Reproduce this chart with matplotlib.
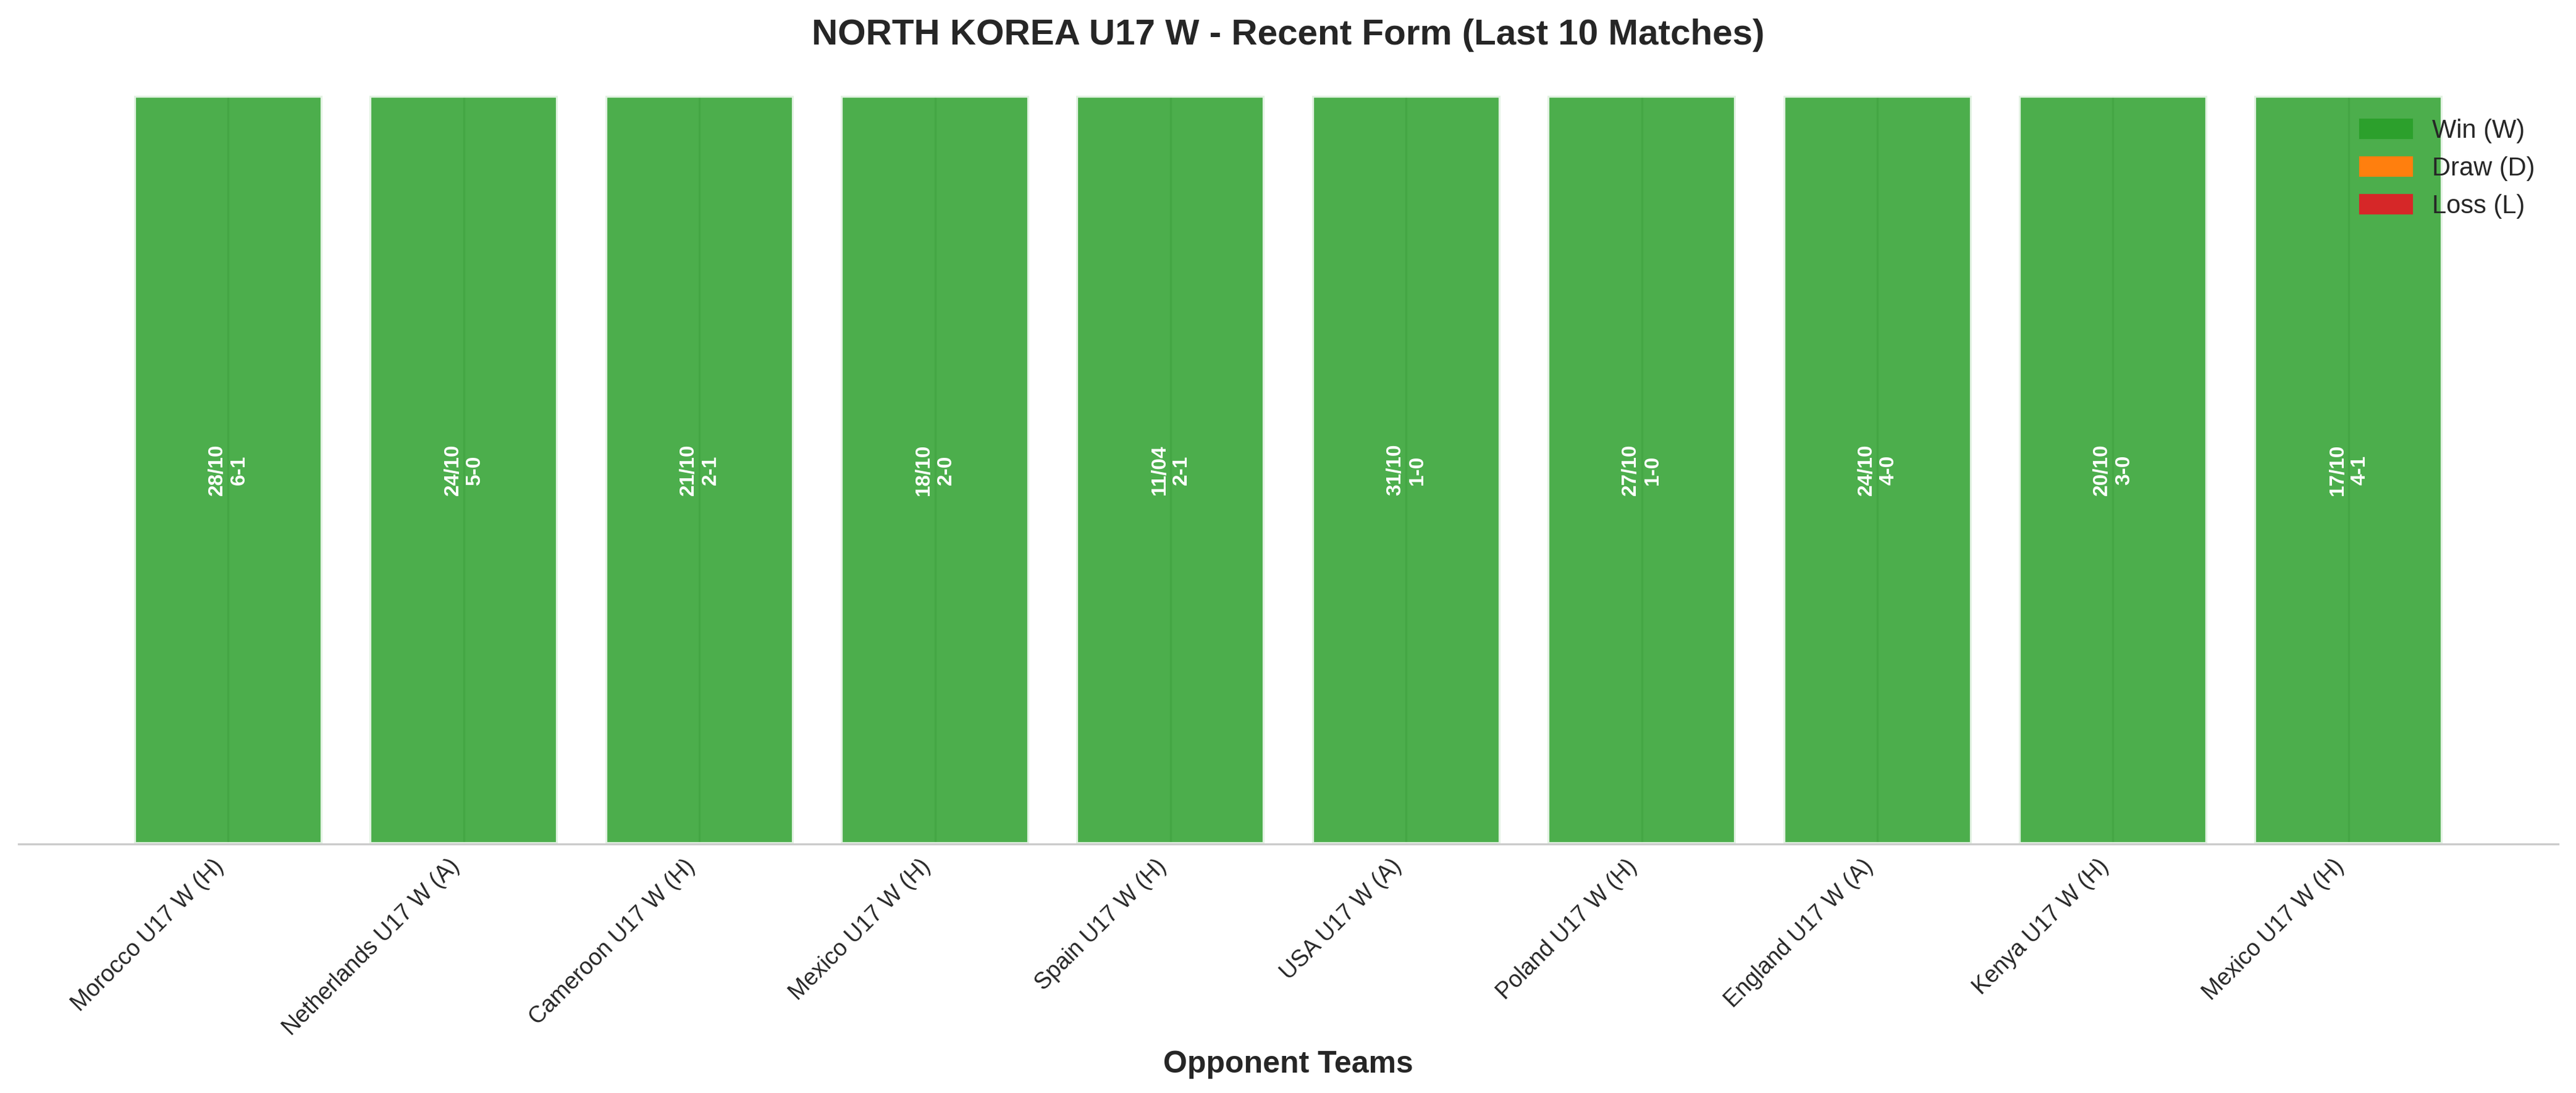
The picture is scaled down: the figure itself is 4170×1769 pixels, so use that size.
import matplotlib
matplotlib.use("Agg")
import matplotlib.pyplot as plt
import matplotlib.patches as mpatches
import seaborn as sns

opponents = ["Morocco U17 W (H)", "Netherlands U17 W (A)", "Cameroon U17 W (H)",
             "Mexico U17 W (H)", "Spain U17 W (H)", "USA U17 W (A)",
             "Poland U17 W (H)", "England U17 W (A)", "Kenya U17 W (H)",
             "Mexico U17 W (H)"]
dates = ["28/10", "24/10", "21/10", "18/10", "11/04", "31/10", "27/10", "24/10", "20/10", "17/10"]
scores = ["6-1", "5-0", "2-1", "2-0", "2-1", "1-0", "1-0", "4-0", "3-0", "4-1"]
results = ["W", "W", "W", "W", "W", "W", "W", "W", "W", "W"]
bar_heights = [1, 1, 1, 1, 1, 1, 1, 1, 1, 1]

result_colors = {"W": "#2ca02c", "D": "#ff7f0e", "L": "#d62728"}
legend_labels = {"W": "Win (W)", "D": "Draw (D)", "L": "Loss (L)"}

sns.set_style("whitegrid")
plt.rcParams["font.family"] = ["Liberation Sans", "DejaVu Sans"]

fig = plt.figure(figsize=(13.9, 5.8967), dpi=300)
ax = fig.add_axes([0.0072, 0.2278, 0.9859, 0.6846])

x = list(range(len(opponents)))
colors = [result_colors[r] for r in results]
ax.bar(x, bar_heights, color=colors, alpha=0.85, edgecolor="white", linewidth=1.5, width=0.8)

for xi, d, s, h in zip(x, dates, scores, bar_heights):
    ax.text(xi, h / 2, f"{d}\n{s}", rotation=90, ha="center", va="center",
            color="white", fontweight="bold", fontsize=8)

ax.set_xticks(x)
ax.set_xticklabels(opponents, rotation=45, ha="right", fontsize=9)
ax.tick_params(axis="x", pad=0.8)
ax.set_yticks([])
ax.set_ylim(0, 1)
ax.set_xlabel("Opponent Teams", fontsize=12, fontweight="bold")
ax.set_title("NORTH KOREA U17 W - Recent Form (Last 10 Matches)", fontsize=14,
             fontweight="bold", pad=20)

for side in ["left", "top", "right"]:
    ax.spines[side].set_visible(False)
ax.spines["bottom"].set_color("#cccccc")

handles = [mpatches.Patch(color=result_colors[k], label=legend_labels[k]) for k in ["W", "D", "L"]]
ax.legend(handles=handles, loc="upper right", frameon=False, fontsize=10)

fig.savefig("out.png", dpi=300)
